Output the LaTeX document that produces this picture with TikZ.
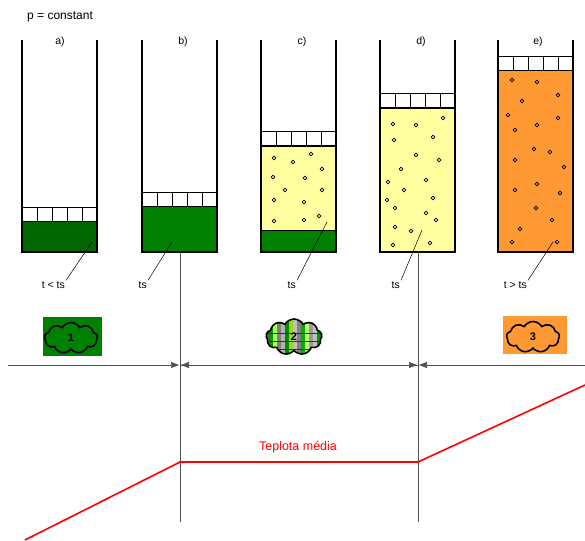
\documentclass[tikz,border=0pt]{standalone}
\usepackage{fontspec}
\setmainfont{Liberation Sans}
\usetikzlibrary{arrows.meta,shapes.symbols}

\definecolor{darkliquid}{RGB}{0,102,0}
\definecolor{liquid}{RGB}{0,128,0}
\definecolor{vapour}{RGB}{255,255,160}
\definecolor{superheat}{RGB}{255,153,51}
\definecolor{axisgray}{RGB}{80,80,80}

\tikzset{
	wall/.style={line width=1.8pt},
	pistonline/.style={line width=0.5pt},
	fluid/.style={draw=black, line width=0.5pt},
	bubble/.style={line width=0.7pt},
	leader/.style={line width=0.5pt},
	lbl/.style={font=\fontsize{10.5}{12}\selectfont, inner sep=1pt},
	phase/.style={cloud, cloud puffs=9, cloud puff arc=120, aspect=1.6, draw=black, line width=1.6pt,
		minimum width=53pt, minimum height=31pt, inner sep=0pt,
		font=\bfseries\fontsize{11}{12}\selectfont},
	dim/.style={axisgray, line width=0.6pt},
	tip/.style={-{Triangle[length=8pt,width=6pt]}}
}

% piston: left x, top y
\newcommand{\drawpiston}[2]{%
	\fill[white] (#1,#2) rectangle ++(75,14);
	\draw[pistonline] (#1,#2) rectangle ++(75,14);
	\foreach \i in {1,...,4} \draw[pistonline] (#1+15*\i,#2) -- ++(0,14);
}
% cylinder walls: left x
\newcommand{\drawwalls}[1]{%
	\draw[wall] (#1,40) -- (#1,252) -- (#1+75,252) -- (#1+75,40);
}

\begin{document}
\begin{tikzpicture}[x=1pt,y=-1pt]
	\useasboundingbox (0,0) rectangle (585,540);

	\node[lbl, anchor=west, font=\fontsize{12}{14}\selectfont] (pconst) at (26,17) {p = constant};

	% a) subcooled liquid
	\fill[fluid, fill=darkliquid] (22,221) rectangle (97,252);
	\drawpiston{22}{207}
	\drawwalls{22}
	\node[lbl] (ha) at (60,42) {a)};

	% b) saturated liquid
	\fill[fluid, fill=liquid] (142,206) rectangle (217,252);
	\drawpiston{142}{192}
	\drawwalls{142}
	\node[lbl] (hb) at (183,42) {b)};

	% c) wet vapour over liquid
	\fill[fluid, fill=vapour] (261,146) rectangle (336,230);
	\fill[fluid, fill=liquid] (261,230) rectangle (336,252);
	\foreach \p in {(274,158),(293,162),(311,154),(322,169),(273,177),(305,178),
		(285,190),(322,190),(274,200),(304,202),(274,221),(304,220),(319,216)}
		\draw[bubble] \p circle[radius=1.8pt];
	\drawpiston{261}{131}
	\drawwalls{261}
	\node[lbl] (hc) at (302,42) {c)};

	% d) saturated vapour
	\fill[fluid, fill=vapour] (380,108) rectangle (455,252);
	\foreach \p in {(443,118),(393,124),(416,125),(433,137),(394,140),(416,155),
		(439,160),(401,169),(426,180),(388,182),(404,190),(433,198),(387,200),
		(395,208),(426,213),(436,220),(395,227),(411,231),(430,243),(393,245)}
		\draw[bubble] \p circle[radius=1.8pt];
	\drawpiston{380}{93}
	\drawwalls{380}
	\node[lbl] (hd) at (421,42) {d)};

	% e) superheated vapour
	\fill[fluid, fill=superheat] (498,70) rectangle (573,252);
	\foreach \p in {(512,80),(537,82),(558,95),(522,101),(508,115),(558,118),
		(515,130),(537,125),(534,149),(550,152),(515,160),(564,167),(537,184),
		(560,193),(515,190),(536,208),(552,220),(520,229),(512,242),(557,242)}
		\draw[bubble] \p circle[radius=1.8pt];
	\drawpiston{498}{56}
	\drawwalls{498}
	\node[lbl] (he) at (538,42) {e)};

	% temperature labels with leaders
	\coordinate (pa) at (92,242);
	\coordinate (pb) at (172,242);
	\coordinate (pc) at (327,222);
	\coordinate (pd) at (422,230);
	\coordinate (pe) at (553,242);
	\node[lbl, anchor=east] (ta) at (66,285) {t < ts};
	\node[lbl, anchor=east] (tb) at (148,285) {ts};
	\node[lbl, anchor=east] (tc) at (297,285) {ts};
	\node[lbl, anchor=east] (td) at (401,285) {ts};
	\node[lbl, anchor=east] (te) at (528,285) {t > ts};
	\foreach \p/\t in {pa/ta,pb/tb,pc/tc,pd/td,pe/te}
		\draw[leader] (\p) -- (\t.north east);

	% phase regions
	\fill[liquid] (43,317) rectangle (102,356);
	\node[phase, fill=liquid] (ph1) at (71,338) {1};
	\node[phase, minimum width=56pt, minimum height=36pt, path picture={
		\foreach \c [count=\i] in {gray,gray!70!black,green!60!black,green!50!yellow!70,gray,
			gray!60,green!55!black,yellow!60!green,gray!50,gray,green!70!black,
			green!40!yellow!60,gray!80,gray!50,green!60!black,yellow!50!green!70,gray}
			\fill[\c] (-34+4*\i,-22) rectangle ++(4,44);
		\foreach \y in {-8,0,8} \draw[gray!40!black, line width=0.3pt] (-32,\y) -- (32,\y);
	}] (ph2) at (294,337) {2};
	\fill[superheat] (503,316) rectangle (567,354);
	\node[phase, fill=superheat] (ph3) at (533,337) {3};

	% region boundaries
	\coordinate (bb) at (180,252);
	\coordinate (db) at (418,252);
	\coordinate (bf) at (180,522);
	\coordinate (df) at (418,522);
	\draw[axisgray, line width=0.6pt] (bb) -- (bf);
	\draw[axisgray, line width=0.6pt] (db) -- (df);

	\coordinate (l0) at (8,365);
	\coordinate (r0) at (585,365);
	\coordinate (bm) at (180,365);
	\coordinate (dm) at (418,365);
	\draw[dim, tip, shorten >=1pt] (l0) -- (bm);
	\draw[dim, tip, shorten >=1pt] (dm) -- (bm);
	\draw[dim, tip, shorten >=1pt] (bm) -- (dm);
	\draw[dim, tip, shorten >=1pt] (r0) -- (dm);

	% temperature curve
	\coordinate (c0) at (25,540);
	\coordinate (c1) at (180,462);
	\coordinate (c2) at (418,462);
	\coordinate (c3) at (585,385);
	\draw[red, line width=1.6pt] (c0) -- (c1) -- (c2) -- (c3);
	\node[red, font=\fontsize{12.5}{14}\selectfont] (tm) at (298,447) {Teplota média};
\end{tikzpicture}
\end{document}
